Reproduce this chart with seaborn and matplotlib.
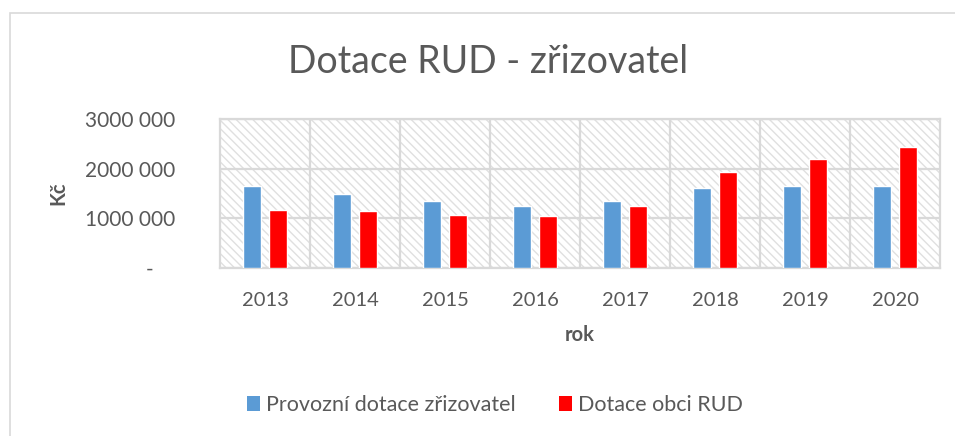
import pandas as pd
import matplotlib.pyplot as plt
import seaborn as sns
from matplotlib.patches import Rectangle, Patch

# data
years = ["2013", "2014", "2015", "2016", "2017", "2018", "2019", "2020"]
provozni = [1655000, 1495000, 1355000, 1255000, 1355000, 1620000, 1655000, 1655000]
rud = [1160000, 1145000, 1065000, 1055000, 1240000, 1940000, 2200000, 2440000]
series_names = ["Provozní dotace zřizovatel", "Dotace obci RUD"]
y_ticks = [0, 1000000, 2000000, 3000000]
y_tick_labels = ["-    ", "1000 000", "2000 000", "3000 000"]

df = pd.DataFrame({
    "rok": years * 2,
    "Kč": provozni + rud,
    "serie": [series_names[0]] * len(years) + [series_names[1]] * len(years),
})

sns.set_style("white")
plt.rcParams["font.family"] = ["Lato", "DejaVu Sans"]
plt.rcParams["hatch.linewidth"] = 1.0
text_col = "#595959"
grid_col = "#d9d9d9"
colors = ["#5b9bd5", "#ff0000"]

fig = plt.figure(figsize=(9.55, 4.36), dpi=100)
ax = fig.add_axes([220 / 955, 1 - 268 / 436, 720 / 955, 149 / 436])

# hatched plot background
ax.add_patch(Rectangle((0, 0), 1, 1, transform=ax.transAxes, facecolor="white",
                       edgecolor="#e0e0e0", hatch="\\\\\\\\", lw=0, zorder=0))

sns.barplot(data=df, x="rok", y="Kč", hue="serie", palette=colors, saturation=1,
            width=0.563, gap=0.30, ax=ax, legend=False, zorder=3)

ax.set_xlim(-0.5, len(years) - 0.5)
ax.set_ylim(0, 3000000)
ax.set_yticks(y_ticks)
ax.set_yticklabels(y_tick_labels)
ax.set_xticks([i + 0.5 for i in range(len(years) - 1)], minor=True)
ax.grid(True, which="major", axis="y", color=grid_col, lw=1.6, zorder=1)
ax.grid(True, which="minor", axis="x", color=grid_col, lw=1.6, zorder=1)
ax.set_axisbelow(True)
for s in ax.spines.values():
    s.set_color(grid_col)
    s.set_linewidth(1.6)
ax.tick_params(axis="both", which="both", length=0, labelsize=14.5, labelcolor=text_col)
ax.tick_params(axis="y", labelsize=15, pad=32)
ax.tick_params(axis="x", pad=17)

ax.set_xlabel("rok", fontsize=14.5, fontweight="bold", color=text_col, labelpad=12)
ax.set_ylabel("Kč", fontsize=14.5, fontweight="bold", color=text_col, labelpad=12)

fig.text(488 / 955, 1 - 62 / 436, "Dotace RUD - zřizovatel", fontsize=27,
         color=text_col, ha="center", va="center")

handles = [Patch(facecolor=c, edgecolor="none") for c in colors]
fig.legend(handles, series_names, loc="center", bbox_to_anchor=(495 / 955, 1 - 405 / 436),
           ncol=2, frameon=False, fontsize=15.5, labelcolor=text_col,
           handlelength=0.6, handleheight=0.7, handletextpad=0.3, columnspacing=2.0)

# outer chart frame
fig.add_artist(Rectangle((10 / 955, -0.1), 1.2, 1 - 13 / 436 + 0.1, transform=fig.transFigure,
                         facecolor="none", edgecolor="#d9d9d9", lw=1.2))

fig.savefig("out.png", dpi=100)
